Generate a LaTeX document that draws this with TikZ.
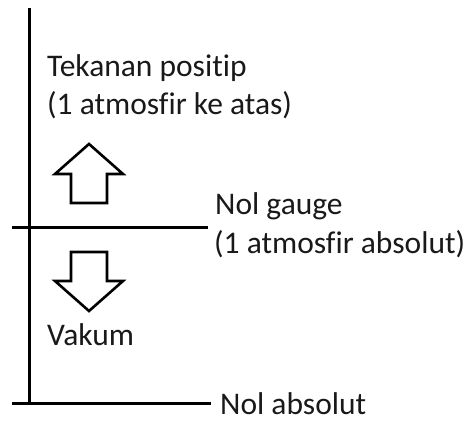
\documentclass[tikz,border=0pt]{standalone}
\usepackage{fontspec}
\setmainfont[Ligatures=CommonOff]{Carlito}
\begin{document}
\begin{tikzpicture}[x=1pt,y=1pt,
  lbl/.style={anchor=base west,inner sep=0pt,font=\fontsize{31.5}{38}\selectfont,text=black!90},
  ln/.style={line width=3pt,black},
  fatarrow/.style={line width=2.6pt,black,line join=miter,fill=white}]
\useasboundingbox (0,0) rectangle (468,422);
% axis
\coordinate (top) at (29,414);
\coordinate (bot) at (29,18);
\draw[ln] (top) -- (bot);
\coordinate (gl) at (12,194);
\coordinate (gr) at (208,194);
\draw[ln] (gl) -- (gr);
\coordinate (bl) at (12,18);
\coordinate (br) at (211,18);
\draw[ln] (bl) -- (br);
% up arrow
\draw[fatarrow] (89,278) -- (123,248) -- (107,248) -- (107,219) -- (71,219) -- (71,248) -- (55,248) -- cycle;
% down arrow
\draw[fatarrow] (89,111) -- (123,141) -- (107,141) -- (107,170) -- (71,170) -- (71,141) -- (55,141) -- cycle;
% labels
\node[lbl] (pos1) at (47,345) {Tekanan positip};
\node[lbl] (pos2) at (47,307) {(1 atmosfir ke atas)};
\node[lbl] (g1) at (215,207) {Nol gauge};
\node[lbl] (g2) at (214,168) {(1 atmosfir absolut)};
\node[lbl] (vak) at (47,76) {Vakum};
\node[lbl] (abs) at (220,7) {Nol absolut};
\end{tikzpicture}
\end{document}
